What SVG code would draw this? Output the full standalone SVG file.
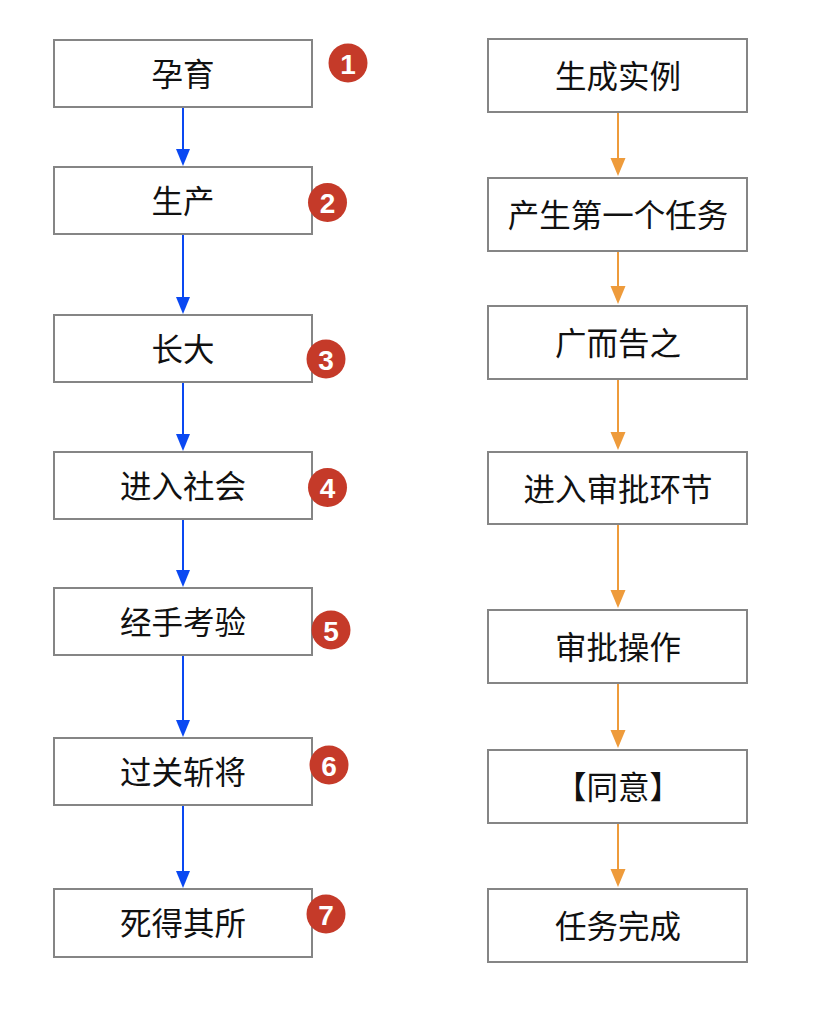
<svg xmlns="http://www.w3.org/2000/svg" width="834" height="1014" viewBox="0 0 834 1014">
<style>
.box{fill:#fff;stroke:#858585;stroke-width:2}
.lbl{font-family:"Noto Sans CJK SC","Liberation Sans",sans-serif;font-size:31.5px;fill:#111;text-anchor:middle;dominant-baseline:central}
.badge{fill:#C53A29}
.num{font-family:"Liberation Sans",Arial,sans-serif;font-size:28px;font-weight:bold;fill:#fff;text-anchor:middle;dominant-baseline:central}
.blue{stroke:#0A48F2;stroke-width:2;fill:none}
.orange{stroke:#EE9B3B;stroke-width:2;fill:none}
.hb{fill:#0A48F2}
.ho{fill:#EE9B3B}
</style>
<rect width="834" height="1014" fill="#fff"/>
<g id="connectors">
  <line class="blue" x1="183" y1="107" x2="183" y2="150"/><polygon class="hb" points="176,149 190,149 183,166"/>
  <line class="blue" x1="183" y1="234" x2="183" y2="298"/><polygon class="hb" points="176,297 190,297 183,314"/>
  <line class="blue" x1="183" y1="382" x2="183" y2="435"/><polygon class="hb" points="176,434 190,434 183,451"/>
  <line class="blue" x1="183" y1="519" x2="183" y2="571"/><polygon class="hb" points="176,570 190,570 183,587"/>
  <line class="blue" x1="183" y1="655" x2="183" y2="721"/><polygon class="hb" points="176,720 190,720 183,737"/>
  <line class="blue" x1="183" y1="805" x2="183" y2="872"/><polygon class="hb" points="176,871 190,871 183,888"/>
  <line class="orange" x1="618" y1="112" x2="618" y2="160"/><polygon class="ho" points="610.5,158 625.5,158 618,176"/>
  <line class="orange" x1="618" y1="251" x2="618" y2="288"/><polygon class="ho" points="610.5,286 625.5,286 618,304"/>
  <line class="orange" x1="618" y1="379" x2="618" y2="434"/><polygon class="ho" points="610.5,432 625.5,432 618,450"/>
  <line class="orange" x1="618" y1="524" x2="618" y2="592"/><polygon class="ho" points="610.5,590 625.5,590 618,608"/>
  <line class="orange" x1="618" y1="683" x2="618" y2="732"/><polygon class="ho" points="610.5,730 625.5,730 618,748"/>
  <line class="orange" x1="618" y1="823" x2="618" y2="871"/><polygon class="ho" points="610.5,869 625.5,869 618,887"/>
</g>
<g id="n1"><rect class="box" x="54" y="40" width="258" height="67"/><text class="lbl" x="183" y="72">孕育</text></g>
<g id="n2"><rect class="box" x="54" y="167" width="258" height="67"/><text class="lbl" x="183" y="199">生产</text></g>
<g id="n3"><rect class="box" x="54" y="315" width="258" height="67"/><text class="lbl" x="183" y="347">长大</text></g>
<g id="n4"><rect class="box" x="54" y="452" width="258" height="67"/><text class="lbl" x="183" y="484">进入社会</text></g>
<g id="n5"><rect class="box" x="54" y="588" width="258" height="67"/><text class="lbl" x="183" y="620">经手考验</text></g>
<g id="n6"><rect class="box" x="54" y="738" width="258" height="67"/><text class="lbl" x="183" y="770">过关斩将</text></g>
<g id="n7"><rect class="box" x="54" y="889" width="258" height="68"/><text class="lbl" x="183" y="921">死得其所</text></g>
<g id="b1"><circle class="badge" cx="348" cy="63" r="19.5"/><text class="num" x="348" y="64">1</text></g>
<g id="b2"><circle class="badge" cx="327.5" cy="202.5" r="19.5"/><text class="num" x="327.5" y="203.5">2</text></g>
<g id="b3"><circle class="badge" cx="326" cy="359" r="19.5"/><text class="num" x="326" y="360">3</text></g>
<g id="b4"><circle class="badge" cx="327.5" cy="487.5" r="19.5"/><text class="num" x="327.5" y="488.5">4</text></g>
<g id="b5"><circle class="badge" cx="331" cy="630" r="19.5"/><text class="num" x="331" y="631">5</text></g>
<g id="b6"><circle class="badge" cx="329" cy="765" r="19.5"/><text class="num" x="329" y="766">6</text></g>
<g id="b7"><circle class="badge" cx="326" cy="914" r="19.5"/><text class="num" x="326" y="915">7</text></g>
<g id="r1"><rect class="box" x="488" y="39" width="259" height="73"/><text class="lbl" x="618" y="74">生成实例</text></g>
<g id="r2"><rect class="box" x="488" y="178" width="259" height="73"/><text class="lbl" x="618" y="213">产生第一个任务</text></g>
<g id="r3"><rect class="box" x="488" y="306" width="259" height="73"/><text class="lbl" x="618" y="341">广而告之</text></g>
<g id="r4"><rect class="box" x="488" y="452" width="259" height="72"/><text class="lbl" x="618" y="487">进入审批环节</text></g>
<g id="r5"><rect class="box" x="488" y="610" width="259" height="73"/><text class="lbl" x="618" y="645">审批操作</text></g>
<g id="r6"><rect class="box" x="488" y="750" width="259" height="73"/><text class="lbl" x="618" y="785">【同意】</text></g>
<g id="r7"><rect class="box" x="488" y="889" width="259" height="73"/><text class="lbl" x="618" y="924">任务完成</text></g>
</svg>
